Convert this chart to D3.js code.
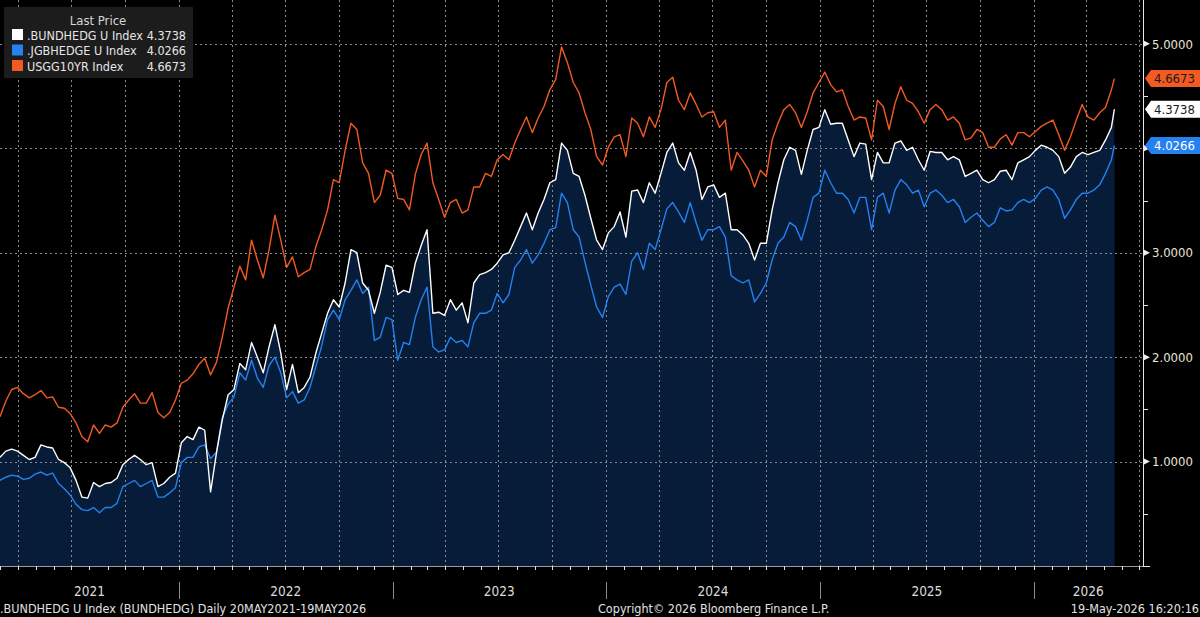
<!DOCTYPE html>
<html>
<head>
<meta charset="utf-8">
<script src="https://cdn.jsdelivr.net/npm/d3@7"></script>
<style>
  html, body { margin: 0; padding: 0; background: #000; }
  svg { display: block; }
  text { font-family: "DejaVu Sans Condensed", "DejaVu Sans", sans-serif; }
</style>
</head>
<body>
<div id="chart"></div>
<script>
// Dados (leitura a cada 10 dias a partir de 01/03/2021, último ponto 19/05/2026)
const startDate = new Date(2021, 2, 1);
const lastDate = new Date(2026, 4, 19);
const stepDays = 10;

const bundValues = [1.04,1.10,1.12,1.10,1.06,1.02,1.04,1.16,1.14,1.13,
  1.02,0.99,0.94,0.82,0.66,0.65,0.80,0.76,0.79,0.80,
  0.84,0.97,1.02,1.06,1.02,0.97,0.99,0.76,0.79,0.85,
  0.89,1.18,1.24,1.21,1.33,1.30,0.71,1.08,1.40,1.64,
  1.69,1.94,1.88,2.14,2.00,1.85,2.10,2.31,2.04,1.69,
  1.93,1.66,1.71,1.81,2.04,2.23,2.42,2.55,2.48,2.71,
  3.03,3.00,2.71,2.64,2.42,2.62,2.88,2.86,2.60,2.64,
  2.62,2.90,3.07,3.22,2.42,2.43,2.40,2.55,2.45,2.52,
  2.33,2.71,2.79,2.81,2.84,2.90,2.98,3.00,3.12,3.25,
  3.38,3.22,3.38,3.51,3.67,3.70,4.05,3.98,3.76,3.73,
  3.55,3.33,3.12,3.03,3.19,3.25,3.39,3.15,3.59,3.60,
  3.48,3.67,3.57,3.76,3.96,4.05,3.86,3.79,3.96,3.79,
  3.51,3.63,3.65,3.53,3.57,3.22,3.22,3.17,3.09,2.93,
  3.09,3.09,3.41,3.67,3.89,4.01,3.98,3.75,3.98,4.18,
  4.20,4.37,4.23,4.24,4.24,4.08,3.92,4.05,4.04,3.70,
  3.96,3.86,3.86,4.05,4.07,3.98,4.01,3.89,3.79,3.97,
  3.96,3.96,3.89,3.92,3.89,3.73,3.76,3.79,3.70,3.67,
  3.70,3.78,3.79,3.70,3.86,3.89,3.92,3.98,4.03,4.01,
  3.98,3.92,3.76,3.82,3.92,3.96,3.94,3.96,3.98,4.08,
  4.20,4.3738];

const jgbValues = [0.82,0.85,0.87,0.86,0.83,0.84,0.88,0.90,0.87,0.89,
  0.79,0.74,0.68,0.59,0.54,0.53,0.56,0.51,0.56,0.56,
  0.60,0.76,0.79,0.82,0.76,0.79,0.82,0.66,0.66,0.70,
  0.75,0.99,1.04,1.04,1.14,1.16,1.03,1.09,1.42,1.55,
  1.62,1.85,1.78,1.97,1.80,1.71,1.92,2.00,1.85,1.61,
  1.67,1.56,1.59,1.71,1.91,2.11,2.36,2.45,2.36,2.55,
  2.64,2.74,2.61,2.67,2.16,2.19,2.38,2.36,1.97,2.14,
  2.12,2.38,2.55,2.67,2.10,2.05,2.07,2.19,2.14,2.16,
  2.10,2.33,2.42,2.42,2.45,2.61,2.52,2.60,2.86,2.93,
  3.03,2.90,2.98,3.09,3.22,3.24,3.57,3.48,3.22,3.15,
  2.91,2.69,2.48,2.38,2.58,2.67,2.70,2.60,2.92,3.00,
  2.84,3.09,3.03,3.22,3.42,3.48,3.39,3.29,3.48,3.29,
  3.12,3.22,3.22,3.25,3.15,2.78,2.74,2.71,2.74,2.53,
  2.61,2.71,2.93,3.09,3.15,3.29,3.25,3.12,3.31,3.53,
  3.57,3.79,3.67,3.57,3.57,3.51,3.38,3.53,3.53,3.22,
  3.53,3.57,3.38,3.60,3.70,3.65,3.57,3.60,3.44,3.57,
  3.60,3.55,3.48,3.51,3.44,3.29,3.34,3.38,3.31,3.25,
  3.29,3.43,3.40,3.41,3.48,3.51,3.48,3.52,3.60,3.63,
  3.60,3.51,3.33,3.41,3.51,3.57,3.57,3.60,3.65,3.76,
  3.89,4.0266];

const ustValues = [1.43,1.58,1.69,1.71,1.65,1.61,1.64,1.68,1.61,1.62,
  1.52,1.51,1.46,1.37,1.24,1.19,1.35,1.27,1.35,1.33,
  1.37,1.52,1.59,1.65,1.56,1.56,1.66,1.47,1.42,1.47,
  1.59,1.75,1.78,1.84,1.93,1.99,1.83,1.95,2.19,2.47,
  2.67,2.87,2.74,3.12,2.93,2.76,3.03,3.36,3.12,2.86,
  2.96,2.77,2.81,2.84,3.06,3.22,3.41,3.70,3.67,3.98,
  4.24,4.18,3.86,3.76,3.48,3.55,3.79,3.76,3.52,3.51,
  3.41,3.75,3.94,4.05,3.67,3.51,3.34,3.48,3.51,3.38,
  3.41,3.63,3.63,3.76,3.73,3.89,3.94,3.89,4.05,4.18,
  4.30,4.15,4.29,4.40,4.56,4.66,4.97,4.82,4.63,4.53,
  4.34,4.18,3.92,3.84,4.01,4.11,4.13,3.92,4.29,4.24,
  4.11,4.30,4.20,4.37,4.63,4.68,4.46,4.37,4.53,4.42,
  4.30,4.34,4.35,4.20,4.27,3.79,3.96,3.88,3.79,3.63,
  3.79,3.73,4.08,4.24,4.37,4.42,4.34,4.20,4.35,4.53,
  4.63,4.73,4.61,4.54,4.56,4.40,4.27,4.30,4.29,4.08,
  4.46,4.40,4.18,4.43,4.59,4.46,4.43,4.35,4.24,4.37,
  4.42,4.37,4.27,4.30,4.24,4.08,4.10,4.18,4.15,4.01,
  4.01,4.09,4.13,4.03,4.15,4.15,4.11,4.16,4.21,4.24,
  4.27,4.13,3.98,4.11,4.27,4.42,4.30,4.27,4.34,4.39,
  4.56,4.6673];

const seriesNames = ['.BUNDHEDG U Index', '.JGBHEDGE U Index', 'USGG10YR Index'];
const lastPrices = ['4.3738', '4.0266', '4.6673'];
const yTicks = [1, 2, 3, 4, 5];
const yMinorTicks = [0.5, 1.5, 2.5, 3.5, 4.5];
const yearLabels = ['2021', '2022', '2023', '2024', '2025', '2026'];
const legendTitle = 'Last Price';
const footerLeft = '.BUNDHEDG U Index (BUNDHEDG) Daily 20MAY2021-19MAY2026';
const footerMid = 'Copyright\u00A9 2026 Bloomberg Finance L.P.';
const footerRight = '19-May-2026 16:20:16';

const colors = { bund: '#ffffff', jgb: '#2580f0', ust: '#f25a22', fill: '#071c38' };

function renderChart() {
  const margin = { top: 0, right: 57, bottom: 51, left: 0 };
  const width = 1200 - margin.left - margin.right;
  const height = 617 - margin.top - margin.bottom;

  const root = d3.select('#chart')
    .append('svg')
    .attr('width', 1200)
    .attr('height', 617);

  root.append('rect').attr('width', 1200).attr('height', 617).attr('fill', '#000');

  const svg = root.append('g')
    .attr('transform', `translate(${margin.left},${margin.top})`);

  // Datas
  const dates = bundValues.map((_, i) =>
    i === bundValues.length - 1 ? lastDate : d3.timeDay.offset(startDate, i * stepDays));
  const toPoints = vals => vals.map((v, i) => ({ date: dates[i], value: v }));
  const bund = toPoints(bundValues);
  const jgb = toPoints(jgbValues);
  const ust = toPoints(ustValues);

  // Escalas
  const x = d3.scaleTime()
    .domain([new Date(2021, 2, 1), new Date(2026, 6, 7)])
    .range([0, width]);

  const y = d3.scaleLinear()
    .domain([0, 5.42])
    .range([height, 0]);

  // Áreas (preenchimento azul escuro)
  const area = d3.area()
    .x(d => x(d.date))
    .y0(height)
    .y1(d => y(d.value));

  [bund, jgb].forEach(s => {
    svg.append('path')
      .datum(s)
      .attr('d', area)
      .attr('fill', colors.fill);
  });

  // Grade
  const grid = svg.append('g');
  grid.selectAll('.hgrid')
    .data(yTicks)
    .enter()
    .append('line')
    .attr('x1', 0)
    .attr('x2', width)
    .attr('y1', d => Math.round(y(d)) + 0.5)
    .attr('y2', d => Math.round(y(d)) + 0.5)
    .attr('stroke', '#8a8a8a')
    .attr('stroke-width', 1)
    .attr('stroke-dasharray', '2,3');

  const quarters = d3.timeMonth.every(3).range(x.domain()[0], x.domain()[1]);
  grid.selectAll('.vgrid')
    .data(quarters)
    .enter()
    .append('line')
    .attr('x1', d => Math.round(x(d)) + 0.5)
    .attr('x2', d => Math.round(x(d)) + 0.5)
    .attr('y1', 0)
    .attr('y2', height)
    .attr('stroke', '#8a8a8a')
    .attr('stroke-width', 1)
    .attr('stroke-dasharray', '2,3');

  // Linhas
  const line = d3.line()
    .x(d => x(d.date))
    .y(d => y(d.value));

  [[jgb, colors.jgb], [bund, colors.bund], [ust, colors.ust]].forEach(([s, c]) => {
    svg.append('path')
      .datum(s)
      .attr('d', line)
      .attr('fill', 'none')
      .attr('stroke', c)
      .attr('stroke-width', 1.4)
      .attr('stroke-linejoin', 'round');
  });

  // Eixo inferior
  svg.append('line')
    .attr('x1', 0).attr('x2', width)
    .attr('y1', height + 0.5).attr('y2', height + 0.5)
    .attr('stroke', '#9a9a9a');

  const months = d3.timeMonth.range(x.domain()[0], x.domain()[1]);
  svg.selectAll('.mtick')
    .data(months)
    .enter()
    .append('line')
    .attr('x1', d => Math.round(x(d)) + 0.5)
    .attr('x2', d => Math.round(x(d)) + 0.5)
    .attr('y1', height)
    .attr('y2', height + 4)
    .attr('stroke', '#e0e0e0');

  const yearStarts = d3.timeYear.range(new Date(2022, 0, 1), x.domain()[1]);
  svg.selectAll('.ysep')
    .data(yearStarts)
    .enter()
    .append('line')
    .attr('x1', d => Math.round(x(d)) + 0.5)
    .attr('x2', d => Math.round(x(d)) + 0.5)
    .attr('y1', height + 16)
    .attr('y2', height + 33)
    .attr('stroke', '#8c8c8c');

  svg.selectAll('.ylabel')
    .data(yearLabels)
    .enter()
    .append('text')
    .attr('x', d => {
      const a = Math.max(x(new Date(+d, 0, 1)), 0);
      const b = Math.min(x(new Date(+d + 1, 0, 1)), width);
      return (a + b) / 2;
    })
    .attr('y', height + 30)
    .attr('fill', '#dcdcdc')
    .style('font-size', '13.5px')
    .style('text-anchor', 'middle')
    .text(d => d);

  // Eixo direito
  svg.append('line')
    .attr('x1', width + 0.5).attr('x2', width + 0.5)
    .attr('y1', 0).attr('y2', height + 1)
    .attr('stroke', '#e6e6e6');

  svg.append('line')
    .attr('x1', width).attr('x2', width + 7)
    .attr('y1', height + 0.5).attr('y2', height + 0.5)
    .attr('stroke', '#e6e6e6');

  svg.selectAll('.minor')
    .data(yMinorTicks)
    .enter()
    .append('line')
    .attr('x1', width).attr('x2', width + 5)
    .attr('y1', d => Math.round(y(d)) + 0.5)
    .attr('y2', d => Math.round(y(d)) + 0.5)
    .attr('stroke', '#e6e6e6');

  // Etiquetas de último preço
  const tags = [
    { value: ustValues[ustValues.length - 1], label: lastPrices[2], bg: colors.ust, fg: '#1a1a1a' },
    { value: bundValues[bundValues.length - 1], label: lastPrices[0], bg: '#ffffff', fg: '#1a1a1a' },
    { value: jgbValues[jgbValues.length - 1], label: lastPrices[1], bg: colors.jgb, fg: '#ffffff' }
  ];

  const major = svg.selectAll('.major')
    .data(yTicks)
    .enter()
    .append('g')
    .attr('transform', d => `translate(${width},${y(d)})`);

  major.append('path')
    .attr('d', 'M1,-3L7,0L1,3Z')
    .attr('fill', '#eeeeee');

  // rótulo escondido quando uma etiqueta fica por cima (como no original)
  major.filter(d => !tags.some(t => Math.abs(y(t.value) - y(d)) < 14))
    .append('text')
    .attr('x', 9)
    .attr('dy', '0.36em')
    .attr('fill', '#e8e4d6')
    .style('font-size', '13px')
    .text(d => d.toFixed(4));

  const tag = svg.selectAll('.tag')
    .data(tags)
    .enter()
    .append('g')
    .attr('transform', d => `translate(${width + 2},${y(d.value)})`);

  tag.append('path')
    .attr('d', 'M0,0L6,-8.5L55,-8.5L55,8.5L6,8.5Z')
    .attr('fill', d => d.bg);

  tag.append('text')
    .attr('x', 9)
    .attr('dy', '0.36em')
    .attr('fill', d => d.fg)
    .style('font-size', '13px')
    .text(d => d.label);

  // Rodapé
  const footer = root.append('g').style('font-size', '12.5px').attr('fill', '#e2e2e2');
  footer.append('text').attr('x', 0).attr('y', 613).text(footerLeft);
  footer.append('text').attr('x', 598).attr('y', 613).text(footerMid);
  footer.append('text').attr('x', 1199).attr('y', 613).style('text-anchor', 'end').text(footerRight);

  // Legenda
  const legend = root.append('g');
  legend.append('rect')
    .attr('x', 4).attr('y', 7)
    .attr('width', 189).attr('height', 71)
    .attr('fill', '#1c1c1c');

  legend.append('text')
    .attr('x', 98).attr('y', 25)
    .attr('fill', '#d6d6d6')
    .style('font-size', '13px')
    .style('text-anchor', 'middle')
    .text(legendTitle);

  const legendColors = [colors.bund, colors.jgb, colors.ust];
  seriesNames.forEach((name, i) => {
    const cy = 35 + i * 15.5;
    legend.append('rect')
      .attr('x', 12).attr('y', cy - 6)
      .attr('width', 11).attr('height', 11)
      .attr('fill', legendColors[i]);
    legend.append('text')
      .attr('x', 27).attr('y', cy + 4.5)
      .attr('fill', '#e6e6e6')
      .style('font-size', '12.5px')
      .text(name);
    legend.append('text')
      .attr('x', 186).attr('y', cy + 4.5)
      .attr('fill', '#e6e6e6')
      .style('font-size', '12.5px')
      .style('text-anchor', 'end')
      .text(lastPrices[i]);
  });
}

renderChart();
</script>
</body>
</html>
